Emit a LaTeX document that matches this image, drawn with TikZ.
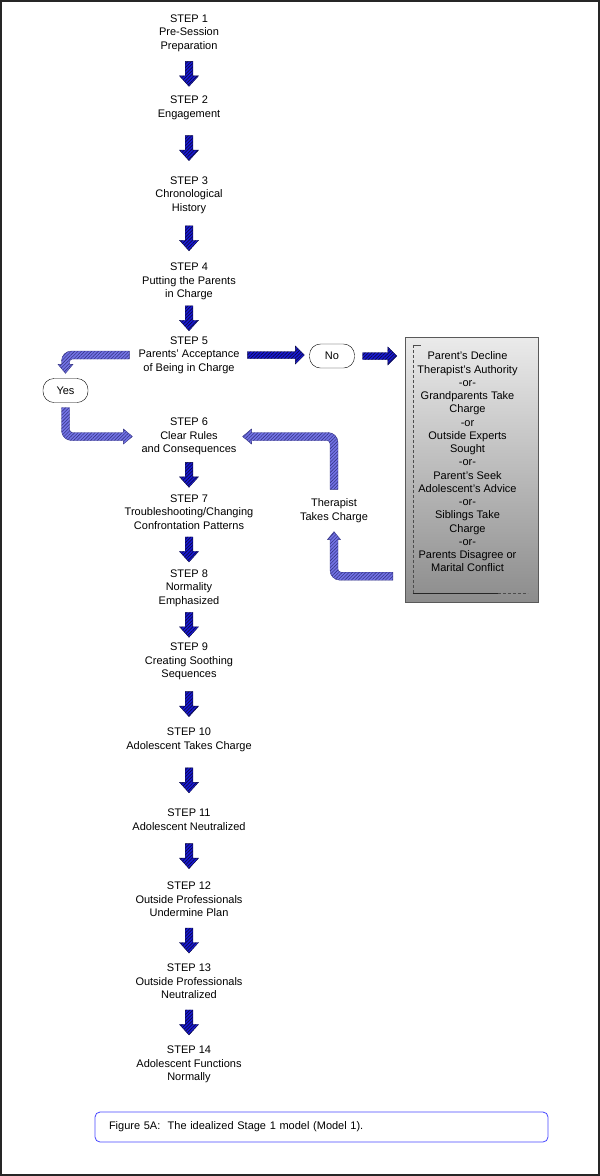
\documentclass[tikz,border=0pt]{standalone}
\usepackage{fontspec}
\setmainfont{Liberation Sans}
\usetikzlibrary{calc,patterns.meta}

\definecolor{darkblue}{RGB}{25,25,215}
\definecolor{darkhatch}{RGB}{10,10,70}
\definecolor{softblue}{RGB}{115,115,230}
\definecolor{softhatch}{RGB}{55,55,135}
\definecolor{capblue}{RGB}{70,70,255}

\tikzset{
  steptext/.style={align=center, inner sep=2pt, font=\fontsize{11}{13.5}\selectfont},
  answer/.style={draw, thin, rounded corners=11pt, minimum width=45pt, minimum height=24pt,
    font=\fontsize{11}{13}\selectfont},
  darkarrow/.style={fill=darkblue, draw=darkhatch, line width=0.4pt,
    postaction={pattern={Lines[angle=45,distance=2.4pt,line width=0.7pt]}, pattern color=darkhatch}},
  softarrow/.style={fill=softblue, draw=softhatch, line width=0.4pt,
    postaction={pattern={Lines[angle=45,distance=2.4pt,line width=0.6pt]}, pattern color=softhatch}},
  altbox/.style={draw=black!65, top color=black!8, bottom color=black!45,
    minimum width=133pt, minimum height=265pt},
  capbox/.style={draw=capblue, line width=0.8pt, rounded corners=5pt, align=left,
    font=\fontsize{11}{13}\selectfont}
}

% block arrow straight down between two steps
\newcommand{\downblock}[2]{%
  \coordinate (mid) at ($(#1.south)!.5!(#2.north)$);
  \path[darkarrow] ($(mid)+(-3.8,-12.5)$) -- ($(mid)+(3.8,-12.5)$) -- ($(mid)+(3.8,2)$)
    -- ($(mid)+(9.5,2)$) -- ($(mid)+(0,12.5)$) -- ($(mid)+(-9.5,2)$) -- ($(mid)+(-3.8,2)$) -- cycle;}

% block arrow pointing right, from #1 to tip #2
\newcommand{\rightblock}[2]{%
  \path[darkarrow] ($(#1)+(0,-3.5)$) -- ($(#2)+(-9,-3.5)$) -- ($(#2)+(-9,-9)$) -- (#2)
    -- ($(#2)+(-9,9)$) -- ($(#2)+(-9,3.5)$) -- ($(#1)+(0,3.5)$) -- cycle;}

\begin{document}
\begin{tikzpicture}[x=1pt,y=-1pt]

\useasboundingbox (0,0) rectangle (600,1176);
\draw[line width=2pt, black!85] (1,1) rectangle (599,1175);

% Place the steps
\node[steptext] (s1) at (189,33) {STEP 1\\Pre-Session\\Preparation};
\node[steptext] (s2) at (189,108) {STEP 2\\Engagement};
\node[steptext] (s3) at (189,195) {STEP 3\\Chronological\\History};
\node[steptext] (s4) at (189,281.5) {STEP 4\\Putting the Parents\\in Charge};
\node[steptext] (s5) at (189,355) {STEP 5\\Parents' Acceptance\\of Being in Charge};
\node[steptext] (s6) at (189,436.5) {STEP 6\\Clear Rules\\and Consequences};
\node[steptext] (s7) at (189,512) {STEP 7\\Troubleshooting/Changing\\Confrontation Patterns};
\node[steptext] (s8) at (189,588) {STEP 8\\Normality\\Emphasized};
\node[steptext] (s9) at (189,661.5) {STEP 9\\Creating Soothing\\Sequences};
\node[steptext] (s10) at (189,740) {STEP 10\\Adolescent Takes Charge};
\node[steptext] (s11) at (189,819.5) {STEP 11\\Adolescent Neutralized};
\node[steptext] (s12) at (189,899.5) {STEP 12\\Outside Professionals\\Undermine Plan};
\node[steptext] (s13) at (189,981.5) {STEP 13\\Outside Professionals\\Neutralized};
\node[steptext] (s14) at (189,1064.5) {STEP 14\\Adolescent Functions\\Normally};

% Answers, alternatives and therapist
\node[answer] (no) at (332,356) {No};
\node[answer] (yes) at (65.5,390.5) {Yes};
\node[altbox] (box) at (471.5,469.5) {};
\node[steptext, font=\fontsize{11}{13.25}\selectfont] (alts) at ($(box.center)+(-4,-7.5)$)
  {Parent's Decline\\Therapist's Authority\\-or-\\Grandparents Take\\Charge\\-or\\Outside Experts\\Sought\\-or-\\Parent's Seek\\Adolescent's Advice\\-or-\\Siblings Take\\Charge\\-or-\\Parents Disagree or\\Marital Conflict};
\node[steptext] (ther) at (334,510.5) {Therapist\\Takes Charge};

% Leftover frame inside the box
\draw[black!70, densely dashed, line width=0.4pt] ($(box.north west)+(8,8)$) -- ($(box.south west)+(8,-9)$);
\draw[black!70, line width=0.4pt] ($(box.north west)+(8,8)$) -- ($(box.north west)+(16,8)$);
\draw[black!85, line width=0.5pt] ($(box.south west)+(8,-9)$) -- ($(box.south west)+(93,-9)$);
\draw[black!70, densely dashed, line width=0.4pt] ($(box.south west)+(93,-9)$) -- ($(box.south west)+(123,-9)$);

% Draw arrows down the column
\foreach \a/\b in {1/2,2/3,3/4,4/5,6/7,7/8,8/9,9/10,10/11,11/12,12/13,13/14}
  \downblock{s\a}{s\b};

% Draw arrows to No and on to the box
\rightblock{$(s5.east)+(6,0)$}{$(no.west |- s5.east)+(-5,0)$}
\rightblock{$(no.east)+(8,0)$}{$(box.west |- no.east)+(-8,0)$}

% Bent arrow from STEP 5 down to Yes
\coordinate (aS) at ($(s5.west)+(-7,0)$);
\coordinate (aT) at ($(yes.north)+(0,-5)$);
\coordinate (aC) at (aT |- aS);
\path[softarrow] ($(aS)+(0,-4)$) [rounded corners=10pt] -- ($(aC)+(-4,-4)$) [sharp corners]
  -- ($(aT)+(-4,-9)$) -- ($(aT)+(-7.5,-9)$) -- (aT) -- ($(aT)+(7.5,-9)$) -- ($(aT)+(4,-9)$)
  [rounded corners=3pt] -- ($(aC)+(4,4)$) [sharp corners] -- ($(aS)+(0,4)$) -- cycle;

% Bent arrow from Yes to STEP 6
\coordinate (bS) at ($(yes.south)+(0,5)$);
\coordinate (bT) at ($(s6.west)+(-7,0)$);
\coordinate (bC) at (bS |- bT);
\path[softarrow] ($(bS)+(-4,0)$) [rounded corners=10pt] -- ($(bC)+(-4,4)$) [sharp corners]
  -- ($(bT)+(-9,4)$) -- ($(bT)+(-9,7.5)$) -- (bT) -- ($(bT)+(-9,-7.5)$) -- ($(bT)+(-9,-4)$)
  [rounded corners=3pt] -- ($(bC)+(4,-4)$) [sharp corners] -- ($(bS)+(4,0)$) -- cycle;

% Bent arrow from the box up to the therapist
\coordinate (cS) at ($(box.south west)+(-12,-26)$);
\coordinate (cT) at ($(ther.south)+(0,7)$);
\coordinate (cC) at (cT |- cS);
\path[softarrow] ($(cS)+(0,-4)$) [rounded corners=3pt] -- ($(cC)+(4,-4)$) [sharp corners]
  -- ($(cT)+(4,8)$) -- ($(cT)+(6.5,8)$) -- (cT) -- ($(cT)+(-6.5,8)$) -- ($(cT)+(-4,8)$)
  [rounded corners=10pt] -- ($(cC)+(-4,4)$) [sharp corners] -- ($(cS)+(0,4)$) -- cycle;

% Bent arrow from the therapist back to STEP 6
\coordinate (dS) at ($(ther.north)+(0,-7)$);
\coordinate (dT) at ($(s6.east)+(4,0)$);
\coordinate (dC) at (dS |- dT);
\path[softarrow] ($(dS)+(-4,0)$) [rounded corners=3pt] -- ($(dC)+(-4,4)$) [sharp corners]
  -- ($(dT)+(9,4)$) -- ($(dT)+(9,7.5)$) -- (dT) -- ($(dT)+(9,-7.5)$) -- ($(dT)+(9,-4)$)
  [rounded corners=10pt] -- ($(dC)+(4,-4)$) [sharp corners] -- ($(dS)+(4,0)$) -- cycle;

% Caption
\node[capbox, text width=425pt, inner xsep=14pt, minimum height=30pt] (caption) at (321.5,1127)
  {Figure 5A:\ \ The idealized Stage 1 model (Model 1).};

\end{tikzpicture}
\end{document}
